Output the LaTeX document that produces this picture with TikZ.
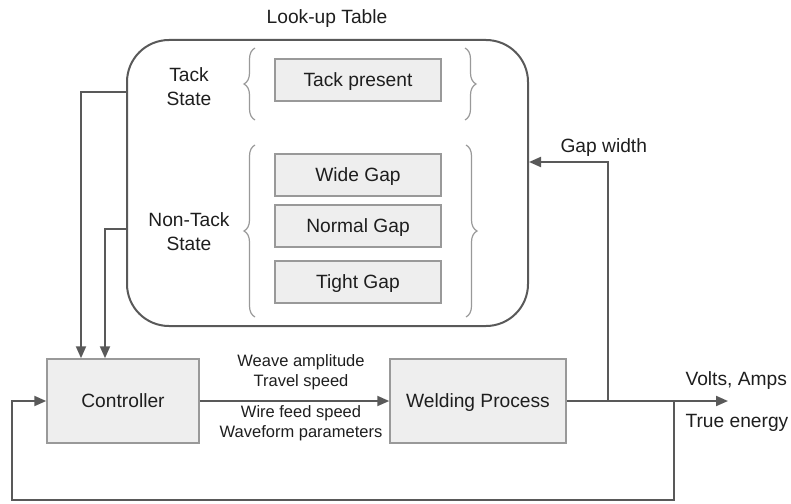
\documentclass[tikz,border=0pt]{standalone}
\usepackage{fontspec}
\setmainfont{Liberation Sans}
\usetikzlibrary{arrows.meta,decorations.pathreplacing}
\definecolor{linegray}{HTML}{595959}
\definecolor{boxgray}{HTML}{999999}
\definecolor{fillgray}{HTML}{EEEEEE}
\definecolor{textgray}{HTML}{1E1E1E}
\tikzset{
  block/.style={draw=boxgray, fill=fillgray, line width=1.5pt, text=textgray,
    font=\fontsize{19.2}{24}\selectfont, text depth=1pt},
  entry/.style={block, minimum width=166pt, minimum height=42pt},
  label/.style={text=textgray, align=center, font=\fontsize{19.2}{24}\selectfont},
  small/.style={text=textgray, align=center, font=\fontsize{16.5}{20}\selectfont},
  curly/.style={draw=boxgray, line width=1.2pt, decorate, decoration={brace, amplitude=11pt}},
  flow/.style={draw=linegray, line width=2pt}
}
\begin{document}
\begin{tikzpicture}[x=1pt, y=-1pt, >={Triangle[length=12pt,width=10pt]}]
    \useasboundingbox (0,0) rectangle (791,503);

    \node[label] (title) at (327,19) {Look-up Table};
    \node[draw=linegray, line width=2pt, rounded corners=42pt,
          minimum width=401pt, minimum height=286pt] (lut) at (327.5,183) {};

    \node[label] (tack) at (189,87) {Tack\\State};
    \node[label] (nontack) at (189,232) {Non-Tack\\State};

    \node[entry] (present) at (358,80) {Tack present};
    \node[entry] (wide) at (358,175) {Wide Gap};
    \node[entry] (normal) at (358,226) {Normal Gap};
    \node[entry] (tight) at (358,282) {Tight Gap};

    \draw[curly] (255,120) -- (255,48);
    \draw[curly] (465,48) -- (465,120);
    \draw[curly] (255,317) -- (255,145);
    \draw[curly] (466,145) -- (466,317);

    \node[block, minimum width=152pt, minimum height=84pt] (ctrl) at (123,401) {Controller};
    \node[block, minimum width=176pt, minimum height=84pt] (weld) at (478,401) {Welding Process};

    \node[small] (upper) at (301,372) {Weave amplitude\\Travel speed};
    \node[small] (lower) at (301,423) {Wire feed speed\\Waveform parameters};
    \node[label, anchor=west] (volts) at (682,381) {Volts, Amps};
    \node[label, anchor=west] (energy) at (682,423) {True energy};
    \node[label, anchor=west] (gap) at (557,148) {Gap width};

    \coordinate (out) at (728,401);
    \coordinate (split) at (608,401);
    \coordinate (back) at (674,401);

    \draw[flow, ->] (ctrl) -- (weld);
    \draw[flow, ->] (weld) -- (out);
    \draw[flow, ->] (split) |- (lut.east |- 0,162);
    \draw[flow, ->] (back) -- (674,500) -| (12,401) -- (ctrl.west);
    \draw[flow, ->] (lut.west |- 0,92) -| (ctrl.north -| 81,0);
    \draw[flow, ->] (lut.west |- 0,229) -| (ctrl.north -| 105,0);
\end{tikzpicture}
\end{document}
